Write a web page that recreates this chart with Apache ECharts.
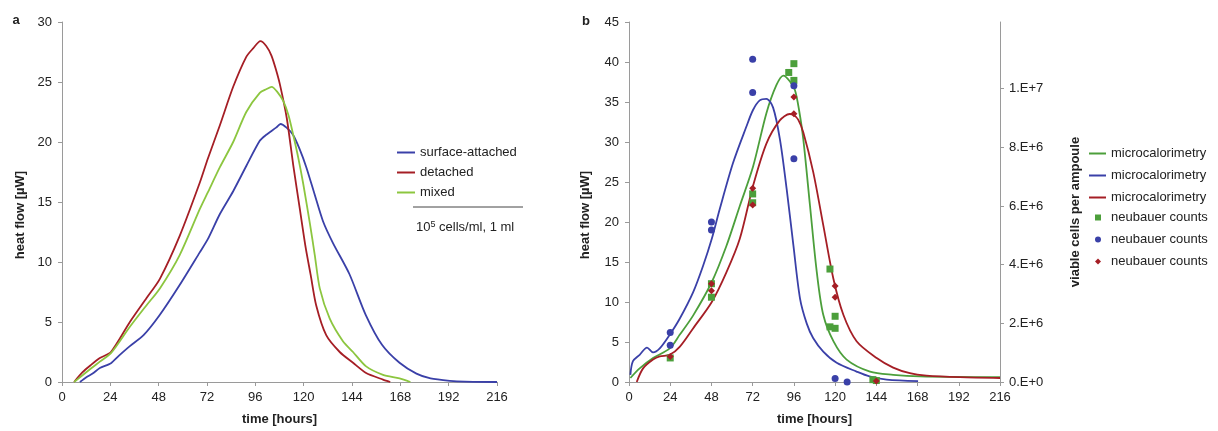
<!DOCTYPE html>
<html>
<head>
<meta charset="utf-8">
<script src="https://cdn.jsdelivr.net/npm/echarts@6/dist/echarts.min.js"></script>
<style>
html, body { margin: 0; padding: 0; background: #fff; }
#chart { width: 1218px; height: 431px; }
</style>
</head>
<body>
<div id="chart"></div>
<script>
var FONT = '"Liberation Sans", Arial, Helvetica, sans-serif';

var BLUE = '#3a40a8';
var RED = '#a51e25';
var GREEN_A = '#8cc63f';
var GREEN_B = '#4c9f3b';

// ---- panel a : heat flow [uW] over time [hours] ----
var attached_h = [8.9, 12.1, 15.2, 18.8, 24.3, 28.3, 33.4, 40.5, 48.6, 58.5, 68.4, 72.4, 78.4, 85.0, 91.5, 98.2, 101.4, 106.3, 108.5, 111.5, 114.7, 118.0, 121.3, 125.5, 129.6, 134.5, 142.7, 150.8, 158.9, 167.6, 176, 183, 192.6, 200, 216];
var attached_v = [0, 0.4, 0.7, 1.16, 1.57, 2.2, 2.95, 3.9, 5.6, 8.1, 10.8, 11.9, 14.0, 15.9, 18.0, 20.1, 20.6, 21.2, 21.5, 21.2, 20.6, 19.4, 17.9, 15.6, 13.4, 11.6, 9.0, 5.6, 3.1, 1.6, 0.7, 0.3, 0.1, 0.03, 0];

var detached_h = [6.0, 10.1, 14.2, 18.8, 24.3, 33.7, 42.0, 48.6, 58.5, 68.4, 72.4, 78.4, 85.0, 91.5, 94.9, 98.5, 101.4, 104.0, 106.3, 108.2, 111.6, 114.8, 118.2, 121.0, 123.5, 126.2, 131.2, 137.9, 144.5, 151.0, 159.4, 163];
var detached_v = [0, 0.8, 1.4, 2.0, 2.5, 5.0, 7.0, 8.6, 12.2, 16.6, 18.6, 21.4, 24.6, 27.1, 27.8, 28.4, 28.0, 27.2, 26.0, 24.8, 22.0, 18.1, 14.3, 11.2, 8.9, 6.4, 3.9, 2.5, 1.6, 0.75, 0.2, 0];

var mixed_h = [6.0, 10.5, 14.2, 18.8, 24.3, 33.7, 42.0, 48.6, 58.5, 68.4, 72.4, 78.4, 85.0, 91.5, 98.2, 101.4, 104.1, 106.8, 109.9, 112.5, 114.8, 117.3, 119.8, 123.1, 125.5, 128.0, 132.9, 139.5, 144.5, 151.0, 159.4, 167.6, 173];
var mixed_v = [0, 0.6, 1.1, 1.7, 2.4, 4.6, 6.4, 7.8, 10.6, 14.4, 15.8, 17.9, 20.0, 22.5, 24.1, 24.4, 24.6, 24.2, 23.4, 22.2, 20.6, 18.7, 16.5, 13.2, 10.6, 7.8, 5.3, 3.4, 2.5, 1.3, 0.6, 0.3, 0];

// ---- panel b : microcalorimetry [uW] ----
var micro_green_h = [0.8, 6.2, 14.0, 23.7, 29.5, 37.3, 48.2, 56.7, 64.5, 72.2, 80, 85.8, 89.9, 93.6, 96.6, 99, 101.5, 105.4, 109.3, 113.1, 119, 126.7, 140.3, 153.8, 169.3, 216];
var micro_green_v = [0.5, 1.7, 3.0, 4.2, 5.9, 8.3, 12.5, 17.0, 22.0, 26.9, 33.6, 37.1, 38.3, 37.6, 36.5, 34.0, 30.3, 22.0, 13.8, 8.4, 5.1, 2.8, 1.3, 0.9, 0.7, 0.6];

var micro_blue_h = [0.8, 2.3, 6.2, 10.5, 14.0, 17.9, 23.7, 29.5, 37.3, 43.1, 48.2, 52.8, 60.6, 68.3, 72.2, 76.1, 80, 83.9, 87.9, 91.8, 95.7, 99.6, 103.5, 107.2, 113.1, 120.9, 132.5, 140, 150, 168.3];
var micro_blue_v = [0.9, 2.6, 3.4, 4.3, 3.7, 4.2, 5.9, 7.9, 11.2, 14.5, 17.9, 21.6, 27.4, 31.9, 34.0, 35.2, 35.4, 34.3, 30.3, 24.1, 17.1, 10.4, 7.3, 5.5, 3.8, 2.4, 1.3, 0.7, 0.3, 0.1];

var micro_red_h = [4.5, 8.2, 14.0, 17.9, 23.7, 29.5, 37.3, 48.2, 56.7, 64.5, 72.2, 80, 87.8, 93.6, 95.7, 98.5, 101.5, 107.3, 113.1, 119, 124.8, 132.5, 144.2, 153.8, 163.5, 173.2, 192.6, 216];
var micro_red_v = [0, 1.7, 2.8, 3.2, 3.4, 4.4, 6.7, 10.0, 13.7, 17.9, 24.5, 29.8, 32.7, 33.5, 33.4, 32.8, 31.2, 26.2, 19.6, 12.9, 8.4, 5.1, 3.0, 1.8, 1.1, 0.8, 0.6, 0.5];

// ---- panel b : neubauer counts [viable cells per ampoule] ----
var count_green_h = [24, 48, 48, 72, 72, 93, 96, 96, 117, 117, 120, 120, 142, 144];
var count_green_v = [8.2e5, 3.35e6, 2.89e6, 6.41e6, 6.11e6, 1.055e7, 1.085e7, 1.028e7, 3.85e6, 1.88e6, 2.24e6, 1.83e6, 8e4, 5e4];

var count_blue_h = [24, 24, 48, 48, 72, 72, 96, 96, 120, 127];
var count_blue_v = [1.69e6, 1.25e6, 5.45e6, 5.18e6, 1.10e7, 9.87e6, 1.01e7, 7.61e6, 1.2e5, 0];

var count_red_h = [24, 48, 48, 72, 72, 96, 96, 120, 120, 144];
var count_red_v = [8.7e5, 3.35e6, 3.11e6, 6.6e6, 6.03e6, 9.71e6, 9.14e6, 3.27e6, 2.89e6, 3e4];

var CELL_TICKS = [0, 2e6, 4e6, 6e6, 8e6, 1e7];

//************ HELPERS ************//
function pairs(h, v){
    return h.map(function (x, i) { return [x, v[i]]; });
}

function cell_label(v){
    if (v === 0) return '0.E+0';
    var e = Math.floor(Math.log10(v) + 1e-9);
    var m = Math.round(v / Math.pow(10, e));
    return m + '.E+' + e;
}

function hours_axis(grid_index){
    return {
        type: 'value',
        gridIndex: grid_index,
        min: 0, max: 216, interval: 24,
        name: 'time [hours]',
        nameLocation: 'middle',
        nameGap: 31,
        nameTextStyle: { fontFamily: FONT, fontSize: 13, fontWeight: 'bold', color: '#222' },
        axisLine: { lineStyle: { color: '#9a9a9a', width: 1 } },
        axisTick: { show: true, length: 4, lineStyle: { color: '#9a9a9a' } },
        axisLabel: { fontFamily: FONT, fontSize: 13, color: '#222', margin: 9 },
        splitLine: { show: false }
    };
}

function value_axis(grid_index, max, interval){
    return {
        type: 'value',
        gridIndex: grid_index,
        min: 0, max: max, interval: interval,
        axisLine: { show: true, lineStyle: { color: '#9a9a9a', width: 1 } },
        axisTick: { show: true, length: 4, lineStyle: { color: '#9a9a9a' } },
        axisLabel: { fontFamily: FONT, fontSize: 13, color: '#222', margin: 10 },
        splitLine: { show: false }
    };
}

function line_series(name, x_index, y_index, data, color, smooth){
    return {
        type: 'line',
        name: name,
        xAxisIndex: x_index,
        yAxisIndex: y_index,
        data: data,
        showSymbol: false,
        symbol: 'none',
        smooth: smooth || false,
        lineStyle: { color: color, width: 1.8 },
        itemStyle: { color: color },
        z: 2
    };
}

function scatter_series(name, data, color, symbol, size){
    return {
        type: 'scatter',
        name: name,
        xAxisIndex: 1,
        yAxisIndex: 2,
        data: data,
        symbol: symbol,
        symbolSize: size,
        itemStyle: { color: color, opacity: 1 },
        z: 4
    };
}

function legend_base(left, top, gap){
    return {
        orient: 'vertical',
        left: left,
        top: top,
        itemGap: gap,
        padding: 0,
        selectedMode: false,
        textStyle: { fontFamily: FONT, fontSize: 13, color: '#222', lineHeight: 15 },
        formatter: function (name) { return name.split('|')[0]; }
    };
}

//************ OPTIONS ************//
var cells_axis = value_axis(1, 1.227e7, 2e6);
cells_axis.position = 'right';
cells_axis.axisLabel.customValues = CELL_TICKS;
cells_axis.axisTick.customValues = CELL_TICKS;
cells_axis.axisLabel.formatter = cell_label;
cells_axis.axisLabel.margin = 9;

var legend_a = legend_base(397, 145, 5);
legend_a.itemWidth = 18;
legend_a.itemHeight = 2;
legend_a.icon = 'rect';
legend_a.symbolKeepAspect = false;
legend_a.data = ['surface-attached', 'detached', 'mixed'];

var legend_b_lines = legend_base(1089, 146, 7);
legend_b_lines.itemWidth = 17;
legend_b_lines.itemHeight = 2;
legend_b_lines.icon = 'rect';
legend_b_lines.symbolKeepAspect = false;
legend_b_lines.data = ['microcalorimetry|g', 'microcalorimetry|b', 'microcalorimetry|r'];

// scatter markers in the legend sit centred under the line icons
var legend_b_counts = legend_base(1095, 210, 7);
legend_b_counts.itemWidth = 6;
legend_b_counts.itemHeight = 6;
legend_b_counts.textStyle.padding = [0, 0, 0, 5];
legend_b_counts.data = [
    { name: 'neubauer counts|g', icon: 'rect' },
    { name: 'neubauer counts|b', icon: 'circle' },
    { name: 'neubauer counts|r', icon: 'diamond' }
];

var title_style = { fontFamily: FONT, fontSize: 13, fontWeight: 'bold', fill: '#222' };

function text_el(txt, x, y, rotate){
    return {
        type: 'text',
        x: x, y: y,
        rotation: rotate || 0,
        style: Object.assign({ text: txt, align: 'center', verticalAlign: 'middle' }, title_style)
    };
}

var options = {
    animation: false,
    backgroundColor: '#fff',
    grid: [
        { left: 62, top: 22, width: 435, height: 362 },
        { left: 629, top: 22, width: 371, height: 362 }
    ],
    xAxis: [hours_axis(0), hours_axis(1)],
    yAxis: [value_axis(0, 30, 5), value_axis(1, 45, 5), cells_axis],
    legend: [legend_a, legend_b_lines, legend_b_counts],
    series: [
        line_series('surface-attached', 0, 0, pairs(attached_h, attached_v), BLUE, 0.25),
        line_series('detached', 0, 0, pairs(detached_h, detached_v), RED, 0.25),
        line_series('mixed', 0, 0, pairs(mixed_h, mixed_v), GREEN_A, 0.25),
        line_series('microcalorimetry|g', 1, 1, pairs(micro_green_h, micro_green_v), GREEN_B, 0.3),
        line_series('microcalorimetry|b', 1, 1, pairs(micro_blue_h, micro_blue_v), BLUE, 0.3),
        line_series('microcalorimetry|r', 1, 1, pairs(micro_red_h, micro_red_v), RED, 0.3),
        scatter_series('neubauer counts|g', pairs(count_green_h, count_green_v), GREEN_B, 'rect', 7),
        scatter_series('neubauer counts|b', pairs(count_blue_h, count_blue_v), BLUE, 'circle', 7),
        scatter_series('neubauer counts|r', pairs(count_red_h, count_red_v), RED, 'diamond', 7)
    ],
    graphic: [
        text_el('a', 16, 20),
        text_el('b', 586, 21),
        text_el('heat flow [\u00b5W]', 20, 215, Math.PI / 2),
        text_el('heat flow [\u00b5W]', 585, 215, Math.PI / 2),
        text_el('viable cells per ampoule', 1075, 212, Math.PI / 2),
        {
            type: 'line',
            shape: { x1: 413, y1: 207, x2: 523, y2: 207 },
            style: { stroke: '#444', lineWidth: 1 }
        },
        {
            type: 'text',
            x: 416, y: 227,
            style: {
                text: '10{sup|5} cells/ml, 1 ml',
                verticalAlign: 'middle',
                fontFamily: FONT, fontSize: 13, fill: '#222',
                rich: {
                    sup: { fontFamily: FONT, fontSize: 9, fill: '#222', verticalAlign: 'top', padding: [0, 0, 5, 0] }
                }
            }
        }
    ]
};

var chart = echarts.init(document.getElementById('chart'));
chart.setOption(options);
</script>
</body>
</html>
